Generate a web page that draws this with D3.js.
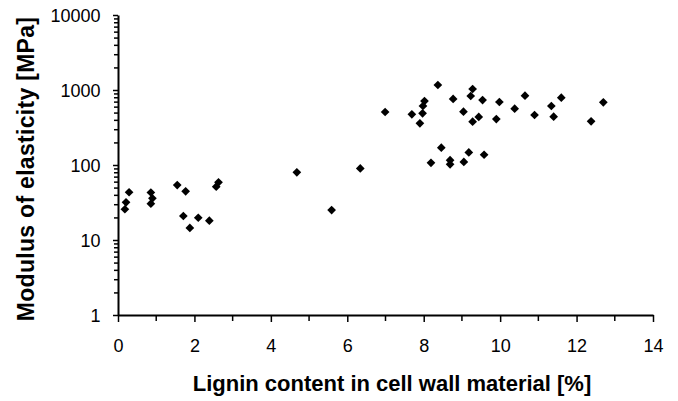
<!DOCTYPE html>
<html>
<head>
<meta charset="utf-8">
<script src="https://cdn.jsdelivr.net/npm/d3@7"></script>
<style>
  html, body { margin: 0; padding: 0; background: #fff; }
  svg { display: block; }
  .axis path, .axis line { stroke: #000; }
  .axis text { font-family: "Liberation Sans", Arial, sans-serif; fill: #000; }
</style>
</head>
<body>
<svg id="chart" width="678" height="401"></svg>
<script>
// Lignin content of cell wall material [%]
const lignin = [
  0.18, 0.21, 0.29, 0.86, 0.90, 0.86, 1.55, 1.77, 1.71, 1.88, 2.10, 2.39, 2.57, 2.63,
  4.68, 5.59, 6.34,
  6.99, 8.37, 8.02, 7.98, 7.69, 7.97, 7.90, 8.77, 9.28, 9.23, 9.54, 9.04, 9.44, 9.28,
  9.98, 9.90, 10.38, 10.65, 10.90, 11.34, 11.40, 11.60, 12.38, 12.70,
  8.46, 8.19, 8.69, 8.69, 9.05, 9.18, 9.58
];
// Modulus of elasticity [MPa]
const moe = [
  25.7, 31.8, 43.3, 43, 36, 30.5, 54, 44.6, 20.9, 14.5, 19.8, 18.1, 51.4, 58.8,
  80, 25.1, 90,
  509, 1166, 713, 612, 474, 489, 360, 759, 1031, 832, 735, 514, 437, 378,
  692, 410, 563, 840, 464, 612, 441, 789, 382, 686,
  170, 107, 116, 102, 110, 147, 137
];
const xTickValues = [0, 2, 4, 6, 8, 10, 12, 14];
const yTickValues = [1, 10, 100, 1000, 10000];
const xTitle = "Lignin content in cell wall material [%]";
const yTitle = "Modulus of elasticity [MPa]";

const svg = d3.select("#chart");
const plotLeft = 118, plotRight = 653, plotTop = 15, plotBottom = 315;

const x = d3.scaleLinear().domain([0, 14]).range([plotLeft, plotRight]);
const y = d3.scaleLog().domain([1, 10000]).range([plotBottom, plotTop]);

// x axis: labelled ticks at even values, minor ticks at odd values
const xMinor = d3.range(1, 14, 2);
const gx = svg.append("g").attr("class", "axis")
  .attr("transform", `translate(0,${plotBottom})`)
  .call(d3.axisBottom(x).tickValues(xTickValues).tickSize(7).tickSizeOuter(0).tickFormat(d3.format("d")));
gx.selectAll("text").attr("font-size", 18).attr("dy", null).attr("y", 37);
gx.selectAll(".minor").data(xMinor).enter().append("line")
  .attr("class", "minor")
  .attr("x1", d => x(d)).attr("x2", d => x(d))
  .attr("y1", 0).attr("y2", 6).attr("stroke", "#000");

// y axis: log scale with minor ticks 2..9 in every decade
const yAll = y.ticks();
const gy = svg.append("g").attr("class", "axis")
  .attr("transform", `translate(${plotLeft},0)`)
  .call(d3.axisLeft(y).tickValues(yAll).tickSize(5).tickSizeOuter(0)
    .tickFormat(d => yTickValues.includes(d) ? d3.format("d")(d) : ""));
gy.selectAll(".tick").each(function(d) {
  if (!yTickValues.includes(d)) d3.select(this).select("line").attr("x2", -4);
});
gy.selectAll("text").attr("font-size", 18).attr("x", -17.5).attr("dy", "0.36em");

svg.selectAll(".axis path").attr("stroke-width", 2);
svg.selectAll(".axis line").attr("stroke-width", 1.5);

// data points as black diamonds
const diamond = d3.symbol().type(d3.symbolSquare).size(38);
svg.append("g").selectAll("path")
  .data(lignin.map((v, i) => [v, moe[i]]))
  .enter().append("path")
  .attr("d", diamond)
  .attr("transform", d => `translate(${x(d[0])},${y(d[1])}) rotate(45)`)
  .attr("fill", "#000");

// axis titles
svg.append("text")
  .attr("x", 392).attr("y", 391)
  .attr("text-anchor", "middle")
  .attr("font-family", "Liberation Sans, Arial, sans-serif")
  .attr("font-weight", "bold").attr("font-size", 22)
  .text(xTitle);

svg.append("text")
  .attr("transform", "translate(34,169) rotate(-90)")
  .attr("text-anchor", "middle")
  .attr("font-family", "Liberation Sans, Arial, sans-serif")
  .attr("font-weight", "bold").attr("font-size", 23)
  .attr("letter-spacing", 0.3)
  .text(yTitle);
</script>
</body>
</html>
